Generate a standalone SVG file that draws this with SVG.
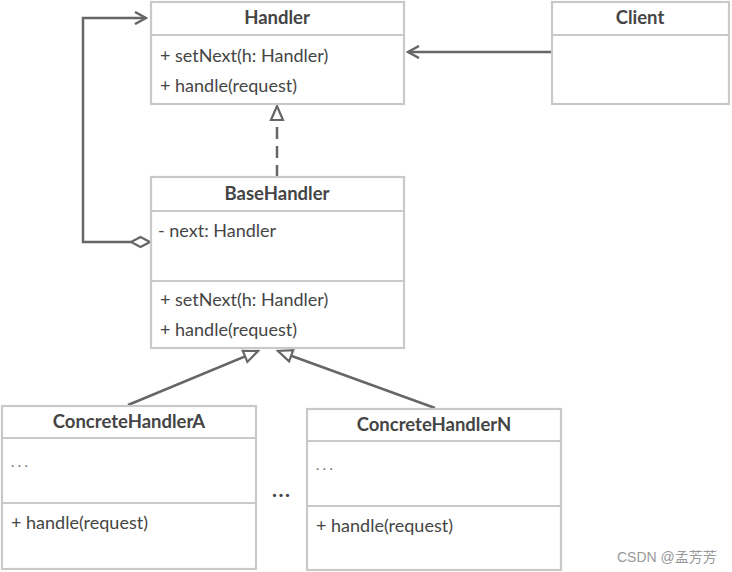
<svg xmlns="http://www.w3.org/2000/svg" width="732" height="572" viewBox="0 0 732 572">
<style>
.box{fill:#fff;stroke:#c9c9c9;stroke-width:2.2}
.t{font-family:Lato,"Open Sans","Liberation Sans",sans-serif;font-size:18px;fill:#454545}
.b{font-weight:bold;text-anchor:middle;font-size:18.5px}
.e{font-size:14px;letter-spacing:3.5px;fill:#666}
.ln{fill:none;stroke:#666;stroke-width:2.5}
</style>
<defs>
<marker id="open" markerWidth="14" markerHeight="14" refX="12" refY="7" orient="auto" markerUnits="userSpaceOnUse">
<path d="M1,1 L12,7 L1,13" fill="none" stroke="#666" stroke-width="2.5"/>
</marker>
<marker id="tri" markerWidth="18" markerHeight="18" refX="16" refY="8" orient="auto" markerUnits="userSpaceOnUse">
<path d="M2,2 L16,8 L2,14 Z" fill="#fff" stroke="#666" stroke-width="2.2"/>
</marker>
</defs>
<rect width="732" height="572" fill="#fff"/>
<g id="connectors">
<line class="ln" x1="551" y1="52" x2="408" y2="52" marker-end="url(#open)"/>
<line class="ln" x1="277" y1="177" x2="277" y2="106" stroke-dasharray="12,7" marker-end="url(#tri)"/>
<polyline class="ln" points="131,242 83,242 83,18 146,18" marker-end="url(#open)"/>
<path d="M131,242 L140.5,237 L150,242 L140.5,247 Z" fill="#fff" stroke="#666" stroke-width="2.2"/>
<line class="ln" x1="128" y1="405" x2="258" y2="351" marker-end="url(#tri)"/>
<line class="ln" x1="435" y1="408" x2="278" y2="351" marker-end="url(#tri)"/>
</g>
<g id="Handler">
<rect class="box" x="151" y="2" width="253" height="102"/>
<line class="box" x1="151" y1="35" x2="404" y2="35"/>
<text class="t b" x="277" y="24">Handler</text>
<text class="t" x="160" y="62">+ setNext(h: Handler)</text>
<text class="t" x="160" y="92">+ handle(request)</text>
</g>
<g id="Client">
<rect class="box" x="552" y="2" width="177" height="102"/>
<line class="box" x1="552" y1="35" x2="729" y2="35"/>
<text class="t b" x="640" y="24">Client</text>
</g>
<g id="BaseHandler">
<rect class="box" x="151" y="177" width="253" height="171"/>
<line class="box" x1="151" y1="211" x2="404" y2="211"/>
<line class="box" x1="151" y1="281" x2="404" y2="281"/>
<text class="t b" x="277" y="200">BaseHandler</text>
<text class="t" x="158" y="237">- next: Handler</text>
<text class="t" x="160" y="306">+ setNext(h: Handler)</text>
<text class="t" x="160" y="336">+ handle(request)</text>
</g>
<g id="ConcreteHandlerA">
<rect class="box" x="2" y="406" width="254" height="163"/>
<line class="box" x1="2" y1="438" x2="256" y2="438"/>
<line class="box" x1="2" y1="503" x2="256" y2="503"/>
<text class="t b" x="129" y="428">ConcreteHandlerA</text>
<text class="t e" x="11" y="467">...</text>
<text class="t" x="11" y="529">+ handle(request)</text>
</g>
<g id="ConcreteHandlerN">
<rect class="box" x="307" y="409" width="254" height="161"/>
<line class="box" x1="307" y1="441" x2="561" y2="441"/>
<line class="box" x1="307" y1="506" x2="561" y2="506"/>
<text class="t b" x="434" y="431">ConcreteHandlerN</text>
<text class="t e" x="316" y="470">...</text>
<text class="t" x="316" y="532">+ handle(request)</text>
</g>
<text class="t" x="272" y="497" style="font-weight:bold;font-size:21px;letter-spacing:1.5px">...</text>
<text x="617" y="562" style="font-family:'Liberation Sans','Noto Sans CJK SC',sans-serif;font-size:14px;fill:#999">CSDN @孟芳芳</text>
</svg>
